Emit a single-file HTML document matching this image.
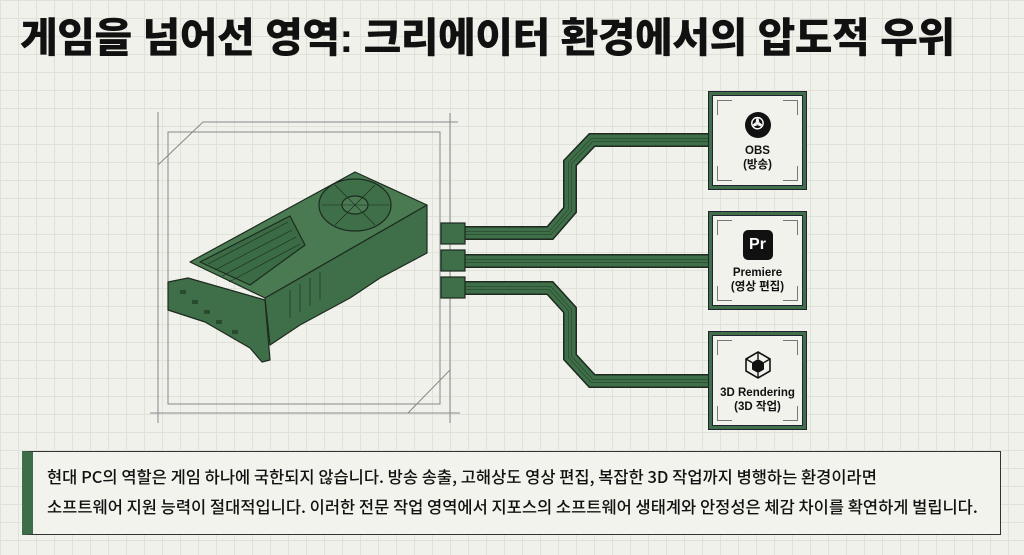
<!DOCTYPE html>
<html><head><meta charset="utf-8"><style>
html,body{margin:0;padding:0}
body{width:1024px;height:555px;overflow:hidden;position:relative;background:#f1f1eb;
background-image:linear-gradient(#e0e1d9 1px,transparent 1px),linear-gradient(90deg,#e0e1d9 1px,transparent 1px);
background-size:18px 18px;font-family:"Liberation Sans","Noto Sans CJK KR",sans-serif}
h1{position:absolute;left:20px;top:4px;margin:0;font-family:"Liberation Sans","Noto Sans CJK KR",sans-serif;font-weight:900;font-size:41px;letter-spacing:-0.5px;color:#111;white-space:nowrap}
.box{position:absolute;left:22px;top:451px;width:979px;height:84px;background:#f3f3ee;border:1.5px solid #333;box-sizing:border-box;border-left:11px solid #3d6e47}
.box p{margin:0;position:absolute;left:14px;top:9px;font-size:16.5px;font-weight:500;line-height:30px;color:#111;white-space:nowrap;font-family:"Noto Sans CJK KR",sans-serif}
.node{position:absolute;left:708px;width:99px;height:99px;box-sizing:border-box;background:#3f6f48;border:1.5px solid #223;padding:3px}
.node .in{position:relative;width:100%;height:100%;background:#f2f2ec;border:1px solid #223;box-sizing:border-box;text-align:center;font-weight:bold;font-size:11.5px;line-height:14px;color:#111;font-family:"Liberation Sans","Noto Sans CJK KR",sans-serif}
.c{position:absolute;width:14px;height:14px;border-color:#777;border-style:solid;border-width:0}
.tl{left:4px;top:4px;border-left-width:1px;border-top-width:1px}
.tr{right:4px;top:4px;border-right-width:1px;border-top-width:1px}
.bl{left:4px;bottom:4px;border-left-width:1px;border-bottom-width:1px}
.br{right:4px;bottom:4px;border-right-width:1px;border-bottom-width:1px}
</style></head><body>
<h1>게임을 넘어선 영역: 크리에이터 환경에서의 압도적 우위</h1>
<svg width="1024" height="555" style="position:absolute;left:0;top:0">
<g stroke="#888" stroke-width="1" fill="none">
<rect x="168" y="132" width="272" height="272"/>
<line x1="203" y1="122" x2="458" y2="122"/><line x1="203" y1="122" x2="158" y2="165"/>
<line x1="450" y1="113" x2="450" y2="423"/>
<line x1="150" y1="413" x2="460" y2="413"/><line x1="408" y1="413" x2="450" y2="370"/>
<line x1="158" y1="112" x2="158" y2="423"/>
</g>
<g fill="none" stroke-linejoin="miter">
<path d="M462 233 H550 L570 210 V163 L592 140 H712" stroke="#1d2a1f" stroke-width="14"/>
<path d="M462 233 H550 L570 210 V163 L592 140 H712" stroke="#3f6f48" stroke-width="11"/>
<path d="M462 233 H550 L570 210 V163 L592 140 H712" stroke="#2a4a30" stroke-width="4"/>
<path d="M462 233 H550 L570 210 V163 L592 140 H712" stroke="#3f6f48" stroke-width="2.5"/>
<path d="M462 261 H712" stroke="#1d2a1f" stroke-width="14"/>
<path d="M462 261 H712" stroke="#3f6f48" stroke-width="11"/>
<path d="M462 261 H712" stroke="#2a4a30" stroke-width="4"/>
<path d="M462 261 H712" stroke="#3f6f48" stroke-width="2.5"/>
<path d="M462 288 H550 L570 310 V357 L592 381 H712" stroke="#1d2a1f" stroke-width="14"/>
<path d="M462 288 H550 L570 310 V357 L592 381 H712" stroke="#3f6f48" stroke-width="11"/>
<path d="M462 288 H550 L570 310 V357 L592 381 H712" stroke="#2a4a30" stroke-width="4"/>
<path d="M462 288 H550 L570 310 V357 L592 381 H712" stroke="#3f6f48" stroke-width="2.5"/>
</g>
<g fill="#3f6f48" stroke="#1d2a1f" stroke-width="1.2">
<rect x="441" y="223" width="24" height="21"/>
<rect x="441" y="250" width="24" height="21"/>
<rect x="441" y="277" width="24" height="21"/>
</g>
<g stroke="#1d2a1f" stroke-width="1.2" stroke-linejoin="round">
<path d="M265 298 L427 205 L427 253 L380 278 L350 298 L300 325 L270 345 Z" fill="#3f6f48"/>
<path d="M190 262 L355 172 L427 205 L265 298 Z" fill="#4a7a52"/>
<path d="M200 262 L290 216 L305 245 L250 285 Z" fill="#3a6b44"/>
<path d="M168 282 L188 278 L265 300 L270 360 L262 362 L250 348 L205 322 L168 310 Z" fill="#3f6f48"/>
<ellipse cx="355" cy="205" rx="36" ry="26" fill="#3f6f48"/>
<ellipse cx="355" cy="205" rx="13" ry="9" fill="#4a7a52"/>
</g>
<g stroke="#1d2a1f" stroke-width="0.6">
<line x1="208" y1="264" x2="288" y2="222"/><line x1="215" y1="270" x2="292" y2="230"/>
<line x1="222" y1="276" x2="296" y2="237"/><line x1="229" y1="282" x2="300" y2="244"/>
<line x1="322" y1="205" x2="390" y2="205"/><line x1="335" y1="185" x2="375" y2="225"/><line x1="375" y1="185" x2="335" y2="225"/>
<line x1="290" y1="318" x2="290" y2="290"/><line x1="300" y1="312" x2="300" y2="284"/><line x1="310" y1="306" x2="310" y2="278"/><line x1="320" y1="300" x2="320" y2="272"/>
</g>
<g fill="#2a4a30">
<rect x="180" y="290" width="6" height="4"/><rect x="192" y="300" width="6" height="4"/><rect x="204" y="310" width="6" height="4"/><rect x="216" y="320" width="6" height="4"/><rect x="232" y="330" width="6" height="4"/>
</g>
</svg>
<div class="node" style="top:91px"><div class="in"><i class="c tl"></i><i class="c tr"></i><i class="c bl"></i><i class="c br"></i>
<div style="margin:16px auto 6px;width:26px;height:26px;border-radius:50%;background:#111;color:#fff;font-size:16px;line-height:26px">✇</div>OBS<br>(방송)</div></div>
<div class="node" style="top:211px"><div class="in"><i class="c tl"></i><i class="c tr"></i><i class="c bl"></i><i class="c br"></i>
<div style="margin:14px auto 6px;width:30px;height:30px;border-radius:5px;background:#111;color:#fff;font-size:16px;line-height:30px">Pr</div>Premiere<br>(영상 편집)</div></div>
<div class="node" style="top:331px"><div class="in"><i class="c tl"></i><i class="c tr"></i><i class="c bl"></i><i class="c br"></i>
<svg width="30" height="30" viewBox="0 0 30 30" style="display:block;margin:14px auto 6px"><path d="M15 2 L27 9 V21 L15 28 L3 21 V9 Z" fill="none" stroke="#111" stroke-width="1.6"/><path d="M15 9 L21 12.5 V19.5 L15 23 L9 19.5 V12.5 Z" fill="#111"/><path d="M3 9 L9 12.5 M27 9 L21 12.5 M15 28 V23 M15 2 V9" stroke="#111" stroke-width="1.4"/></svg>3D Rendering<br>(3D 작업)</div></div>
<div class="box"><p>현대 PC의 역할은 게임 하나에 국한되지 않습니다. 방송 송출, 고해상도 영상 편집, 복잡한 3D 작업까지 병행하는 환경이라면<br>소프트웨어 지원 능력이 절대적입니다. 이러한 전문 작업 영역에서 지포스의 소프트웨어 생태계와 안정성은 체감 차이를 확연하게 벌립니다.</p></div>
</body></html>
